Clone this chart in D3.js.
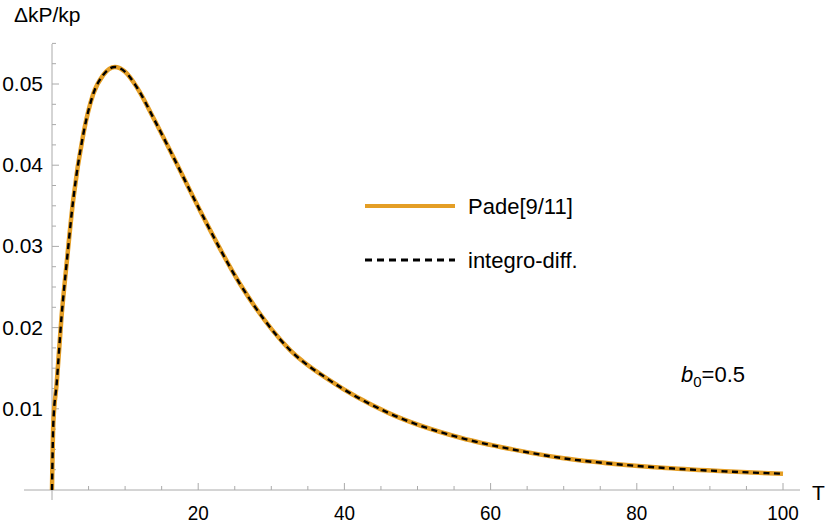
<!DOCTYPE html>
<html><head><meta charset="utf-8">
<script src="https://cdn.jsdelivr.net/npm/d3@7"></script>
<style>body{margin:0;background:#fff}text{font-family:"Liberation Sans",Arial,sans-serif}</style>
</head><body><div id="chart"></div>
<script>
var tVals = [0, 0.18, 0.64, 1.3, 2.0, 2.9, 4.3, 5.65, 7, 8.6, 10, 11.6, 14, 16.6, 20.2, 25.7, 32.6, 38, 46, 56, 63, 70, 77, 84, 92, 100];
var kVals = [0, 0.0082, 0.0131, 0.0213, 0.0279, 0.0357, 0.0439, 0.0488, 0.0511, 0.0521, 0.0515, 0.0496, 0.0456, 0.0410, 0.0345, 0.0254, 0.0172, 0.0135, 0.0095, 0.0064, 0.0050, 0.0039, 0.0032, 0.0027, 0.0023, 0.0020];
var xTicks = [20, 40, 60, 80, 100];
var yTicks = [0.01, 0.02, 0.03, 0.04, 0.05];

var width = 830, height = 529;
var svg = d3.select("#chart").append("svg").attr("width", width).attr("height", height);

var x = d3.scaleLinear().domain([0, 100]).range([52, 783]);
var y = d3.scaleLinear().domain([0, 0.05]).range([490, 84]);

// axes
var xAxis = svg.append("g").attr("transform", "translate(0," + y(0) + ")");
xAxis.append("line").attr("x1", 24).attr("x2", 800).attr("stroke", "#aaa");
xAxis.selectAll(".mt").data(d3.range(5, 101, 5)).enter().append("line")
    .attr("x1", d => x(d)).attr("x2", d => x(d))
    .attr("y1", d => d % 20 == 0 ? -7 : -4).attr("y2", 0).attr("stroke", "#aaa");
xAxis.selectAll(".tl").data(xTicks).enter().append("text")
    .attr("x", d => x(d)).attr("y", 30).attr("text-anchor", "middle")
    .attr("font-size", 21).attr("transform", d => "translate(" + x(d) + ",0) scale(0.9,1) translate(" + (-x(d)) + ",0)").text(d => d);
svg.append("text").attr("x", 812).attr("y", 500).attr("font-size", 21).text("T");

var yAxis = svg.append("g").attr("transform", "translate(" + x(0) + ",0)");
yAxis.append("line").attr("y1", 44).attr("y2", 500).attr("stroke", "#aaa");
yAxis.selectAll(".mt").data(d3.range(1, 23).map(i => i * 0.0025)).enter().append("line")
    .attr("y1", d => y(d)).attr("y2", d => y(d))
    .attr("x1", 0).attr("x2", (d, i) => (i + 1) % 4 == 0 ? 7 : 4).attr("stroke", "#aaa");
yAxis.selectAll(".tl").data(yTicks).enter().append("text")
    .attr("x", -9).attr("y", d => y(d) + 7).attr("text-anchor", "end")
    .attr("font-size", 21).text(d => d.toFixed(2));
svg.append("text").attr("x", 14).attr("y", 22).attr("font-size", 21).text("ΔkP/kp");

var line = d3.line().curve(d3.curveMonotoneX).x((d, i) => x(tVals[i])).y(d => y(d));
svg.append("path").datum(kVals).attr("d", line).attr("fill", "none")
    .attr("stroke", "#E49E25").attr("stroke-width", 4.5);
svg.append("path").datum(kVals).attr("d", line).attr("fill", "none")
    .attr("stroke", "#000").attr("stroke-width", 2.4).attr("stroke-dasharray", "6,4.5");

// legend
svg.append("line").attr("x1", 365).attr("x2", 455).attr("y1", 206).attr("y2", 206)
    .attr("stroke", "#E49E25").attr("stroke-width", 4);
svg.append("text").attr("x", 468).attr("y", 214).attr("font-size", 22).text("Pade[9/11]");
svg.append("line").attr("x1", 365).attr("x2", 455).attr("y1", 260).attr("y2", 260)
    .attr("stroke", "#000").attr("stroke-width", 3).attr("stroke-dasharray", "7,5");
svg.append("text").attr("x", 468).attr("y", 268).attr("font-size", 22).text("integro-diff.");

var b = svg.append("text").attr("x", 681).attr("y", 382).attr("font-size", 22);
b.append("tspan").attr("font-style", "italic").text("b");
b.append("tspan").attr("font-size", 15).attr("dy", 5).text("0");
b.append("tspan").attr("dy", -5).text("=0.5");
</script></body></html>
